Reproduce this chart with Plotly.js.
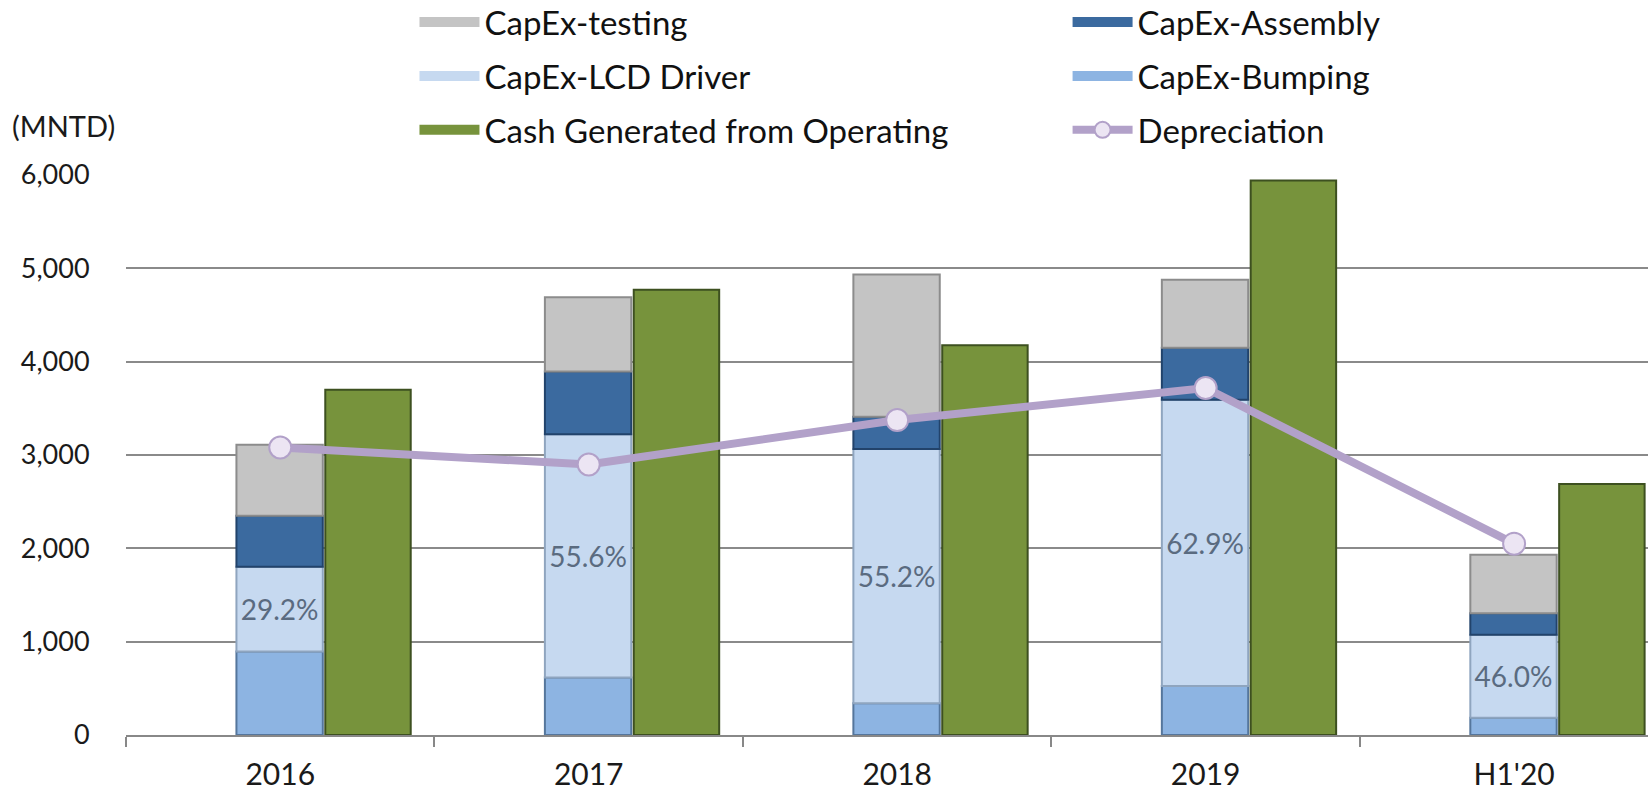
<!DOCTYPE html>
<html>
<head>
<meta charset="utf-8">
<script src="https://cdn.plot.ly/plotly-3.0.1.min.js"></script>
<style>
  html, body { margin: 0; padding: 0; background: #ffffff; overflow: hidden; }
  #chart { width: 1648px; height: 790px; }
</style>
</head>
<body>
<div id="chart"></div>
<script>
// ---- Data (MNTD) ----
const categories = ['2016', '2017', '2018', '2019', "H1'20"];
const capexBumping = [895, 615, 340, 524, 185];
const capexLCD = [908, 2608, 2724, 3068, 888];
const capexAssembly = [545, 672, 345, 556, 232];
const capexTesting = [761, 795, 1525, 730, 625];
const cashOperating = [3700, 4770, 4175, 5940, 2688];
const depreciation = [3080, 2898, 3374, 3718, 2050];
const lcdShareLabels = ['29.2%', '55.6%', '55.2%', '62.9%', '46.0%'];
const yTickValues = [0, 1000, 2000, 3000, 4000, 5000, 6000];

// stacked bases derived from the series
const baseLCD = capexBumping.slice();
const baseAssembly = capexBumping.map((v, i) => v + capexLCD[i]);
const baseTesting = baseAssembly.map((v, i) => v + capexAssembly[i]);

const FONT = 'Lato, "Open Sans", sans-serif';
const capexOffset = -0.142, capexWidth = 0.28;
const cashOffset = 0.146, cashWidth = 0.277;

const colors = {
  testing: ['#c4c4c4', '#8c8c8c'],
  assembly: ['#3b6a9f', '#22436b'],
  lcd: ['#c6d9f0', '#8fa5bf'],
  bumping: ['#8db4e2', '#55769c'],
  cash: ['#77933c', '#3d5020'],
  dep: '#b2a1c9'
};

function capexTrace(values, base, col, extra) {
  return Object.assign({
    type: 'bar', x: categories, y: values, base: base,
    offset: capexOffset, width: capexWidth,
    marker: { color: col[0], line: { color: col[1], width: 2 } },
    showlegend: false, hoverinfo: 'skip'
  }, extra || {});
}

// legend proxies (wide rectangular swatches like the original); they draw nothing in the plot
function swatch(name, col, legend) {
  return {
    type: 'scatter', mode: 'lines', name: name,
    x: categories, y: categories.map(() => null),
    line: { color: col[0], width: 10 }, legend: legend, legendgroup: name,
    hoverinfo: 'skip'
  };
}

const traces = [
  capexTrace(capexBumping, undefined, colors.bumping),
  capexTrace(capexLCD, baseLCD, colors.lcd, {
    text: lcdShareLabels, textposition: 'inside', insidetextanchor: 'middle',
    constraintext: 'none', textangle: 0,
    textfont: { family: FONT, size: 28, color: '#5a6b80' }
  }),
  capexTrace(capexAssembly, baseAssembly, colors.assembly),
  capexTrace(capexTesting, baseTesting, colors.testing),
  {
    type: 'bar', x: categories, y: cashOperating,
    offset: cashOffset, width: cashWidth,
    marker: { color: colors.cash[0], line: { color: colors.cash[1], width: 2 } },
    showlegend: false, hoverinfo: 'skip'
  },
  swatch('CapEx-testing', colors.testing, 'legend'),
  swatch('CapEx-Assembly', colors.assembly, 'legend2'),
  swatch('CapEx-LCD Driver', colors.lcd, 'legend'),
  swatch('CapEx-Bumping', colors.bumping, 'legend2'),
  swatch('Cash Generated from Operating', colors.cash, 'legend'),
  {
    type: 'scatter', mode: 'lines+markers', name: 'Depreciation', x: categories, y: depreciation,
    line: { color: colors.dep, width: 8 },
    marker: { size: 22, color: '#ece5f3', line: { color: colors.dep, width: 2 } },
    legend: 'legend2', legendgroup: 'dep', hoverinfo: 'skip'
  }
];

const legendCommon = {
  orientation: 'v', xref: 'container', yref: 'paper', xanchor: 'left', yanchor: 'top',
  y: 1.323, bgcolor: 'rgba(0,0,0,0)', borderwidth: 0,
  font: { family: FONT, size: 33, color: '#111111' },
  traceorder: 'grouped', tracegroupgap: 8, itemwidth: 60
};

const layout = {
  width: 1648, height: 790,
  margin: { l: 126, r: 0, t: 175, b: 55, pad: 0, autoexpand: false },
  paper_bgcolor: '#ffffff', plot_bgcolor: '#ffffff',
  barmode: 'overlay',
  showlegend: true,
  legend: Object.assign({}, legendCommon, { x: 0.2515 }),
  legend2: Object.assign({}, legendCommon, { x: 0.6478 }),
  xaxis: {
    type: 'category', categoryorder: 'array', categoryarray: categories,
    range: [-0.5, 4.434], tickson: 'boundaries', ticks: 'outside', ticklen: 10,
    tickcolor: '#888888', tickwidth: 2, tickangle: 0, automargin: false,
    ticklabelstandoff: 12,
    showline: true, linecolor: '#888888', linewidth: 2,
    showgrid: false, zeroline: false,
    tickfont: { family: FONT, size: 30, color: '#1a1a1a' }
  },
  yaxis: {
    range: [0, 6000], tickvals: yTickValues, tickformat: ',', automargin: false,
    showgrid: true, gridcolor: '#8a8a8a', gridwidth: 2,
    zeroline: false, showline: false,
    ticks: 'outside', ticklen: 30, tickcolor: 'rgba(0,0,0,0)',
    tickfont: { family: FONT, size: 27, color: '#1a1a1a' }
  },
  annotations: [{
    text: '(MNTD)', xref: 'paper', yref: 'paper', x: -0.076, y: 1.089,
    xanchor: 'left', yanchor: 'middle', showarrow: false,
    font: { family: FONT, size: 29, color: '#1a1a1a' }
  }]
};

Plotly.newPlot('chart', traces, layout, { displayModeBar: false, staticPlot: true });
</script>
</body>
</html>
